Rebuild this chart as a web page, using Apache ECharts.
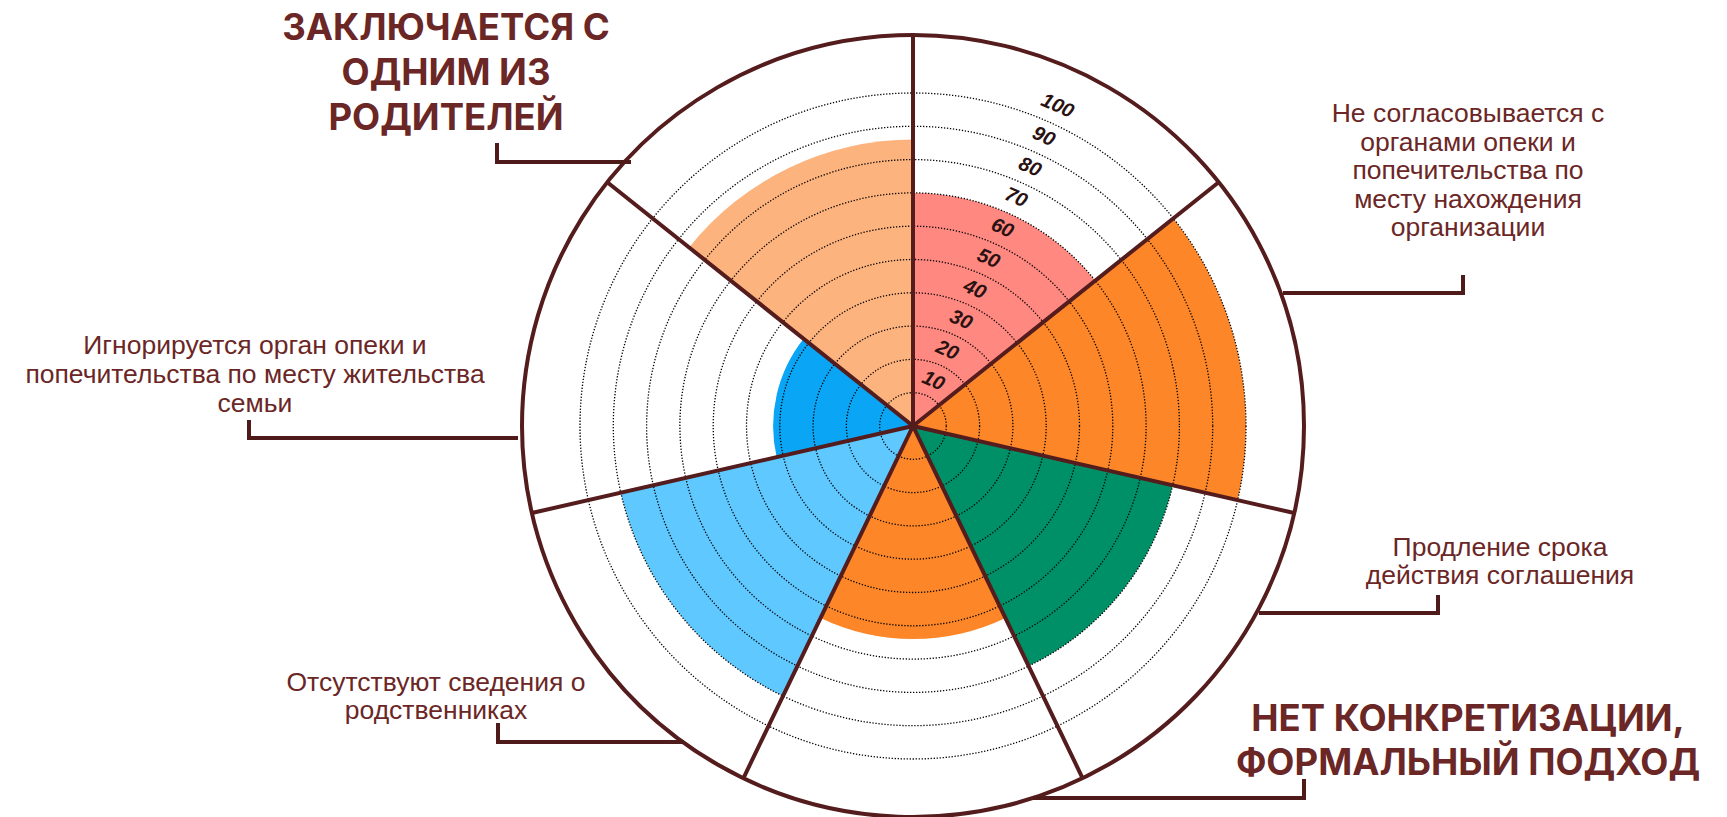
<!DOCTYPE html>
<html>
<head>
<meta charset="utf-8">
<script src="https://cdn.jsdelivr.net/npm/echarts@6/dist/echarts.min.js"></script>
<style>
html,body{margin:0;padding:0;background:#fff;}
#chart{width:1727px;height:817px;}
</style>
</head>
<body>
<div id="chart"></div>
<script>
// ---- data ----
const categories = ['1', '2', '3', '4', '5', '6', '7'];
const values = [70, 100, 80, 64, 90, 42, 86];
const barColors = ['#FF8880', '#FD8628', '#009068', '#FD8628', '#5EC8FF', '#0AA5F5', '#FDB37D'];
const radiusTicks = [10, 20, 30, 40, 50, 60, 70, 80, 90, 100];
const calloutTexts = [
  'ЗАКЛЮЧАЕТСЯ С\nОДНИМ ИЗ\nРОДИТЕЛЕЙ',
  'Не согласовывается с\nорганами опеки и\nпопечительства по\nместу нахождения\nорганизации',
  'Игнорируется орган опеки и\nпопечительства по месту жительства\nсемьи',
  'Продление срока\nдействия соглашения',
  'Отсутствуют сведения о\nродственниках',
  'НЕТ КОНКРЕТИЗАЦИИ,\nФОРМАЛЬНЫЙ ПОДХОД'
];

const CX = 913, CY = 426;
const DARK = '#541c1c';
const TXT = '#6b2626';

const chart = echarts.init(document.getElementById('chart'), null, {renderer: 'svg'});

function callout(text, x, y, font, lh, pts) {
  return [
    {type: 'polyline', z: 50, shape: {points: pts}, style: {stroke: '#4f1a1a', lineWidth: 4, fill: null}},
    {type: 'text', z: 50, style: {text: text, x: x, y: y, align: 'center', verticalAlign: 'middle',
      font: font, fill: TXT, lineHeight: lh}}
  ];
}
const bigFont = 'bold 36.5px Inter';
const regFont = '26.5px "Liberation Sans"';

const option = {
  backgroundColor: '#fff',
  animation: false,
  polar: [
    {center: [CX, CY], radius: 391},
    {center: [CX, CY], radius: 333},
    {center: [CX, CY], radius: 352}
  ],
  angleAxis: [
    {polarIndex: 0, type: 'category', data: categories, startAngle: 90, clockwise: true, z: 6,
      axisLine: {show: true, lineStyle: {color: DARK, width: 4}},
      axisTick: {show: false}, axisLabel: {show: false},
      splitLine: {show: true, interval: 0, lineStyle: {color: DARK, width: 4}}},
    {polarIndex: 1, type: 'category', data: categories, startAngle: 90, clockwise: true,
      axisLine: {show: false}, axisTick: {show: false}, axisLabel: {show: false}, splitLine: {show: false}},
    {polarIndex: 2, type: 'value', startAngle: 65.7, min: 0, max: 360,
      axisLine: {show: false}, axisTick: {show: false}, axisLabel: {show: false}, splitLine: {show: false}}
  ],
  radiusAxis: [
    {polarIndex: 0, type: 'value', min: 0, max: 1,
      axisLine: {show: false}, axisTick: {show: false}, axisLabel: {show: false}, splitLine: {show: false}},
    {polarIndex: 1, type: 'value', min: 0, max: 100, interval: 10, z: 4,
      axisLine: {show: false}, axisTick: {show: false}, axisLabel: {show: false},
      splitLine: {show: true, lineStyle: {color: '#000', width: 1.3, type: [1.3, 1.7]}}},
    {polarIndex: 2, type: 'value', min: -5, max: 100, z: 5,
      axisLine: {show: false}, axisTick: {show: false}, splitLine: {show: false},
      axisLabel: {show: true, customValues: radiusTicks, rotate: -24, margin: 0,
        align: 'center', verticalAlign: 'middle',
        fontFamily: 'Liberation Sans', fontWeight: 'bold', fontStyle: 'italic', fontSize: 20, color: '#2a1212'}}
  ],
  series: [{
    type: 'bar',
    coordinateSystem: 'polar',
    polarIndex: 1,
    barCategoryGap: '0%',
    z: 1,
    data: values.map((v, i) => ({value: v, itemStyle: {color: barColors[i]}}))
  }],
  graphic: [].concat(
    callout(calloutTexts[0], 446, 72, bigFont, 45, [[631, 162], [497, 162], [497, 143]]),
    callout(calloutTexts[1], 1468, 170, regFont, 28.5, [[1283, 293], [1463, 293], [1463, 275]]),
    callout(calloutTexts[2], 255, 374, regFont, 29, [[518, 438], [249, 438], [249, 420]]),
    callout(calloutTexts[3], 1500, 561, regFont, 28.5, [[1259, 613], [1438, 613], [1438, 595]]),
    callout(calloutTexts[4], 436, 696, regFont, 28.5, [[684, 742], [498, 742], [498, 723]]),
    callout(calloutTexts[5], 1468, 740, 'bold 36.5px Inter', 44.5, [[1033, 798], [1304, 798], [1304, 779]])
  )
};
chart.setOption(option);
</script>
</body>
</html>
